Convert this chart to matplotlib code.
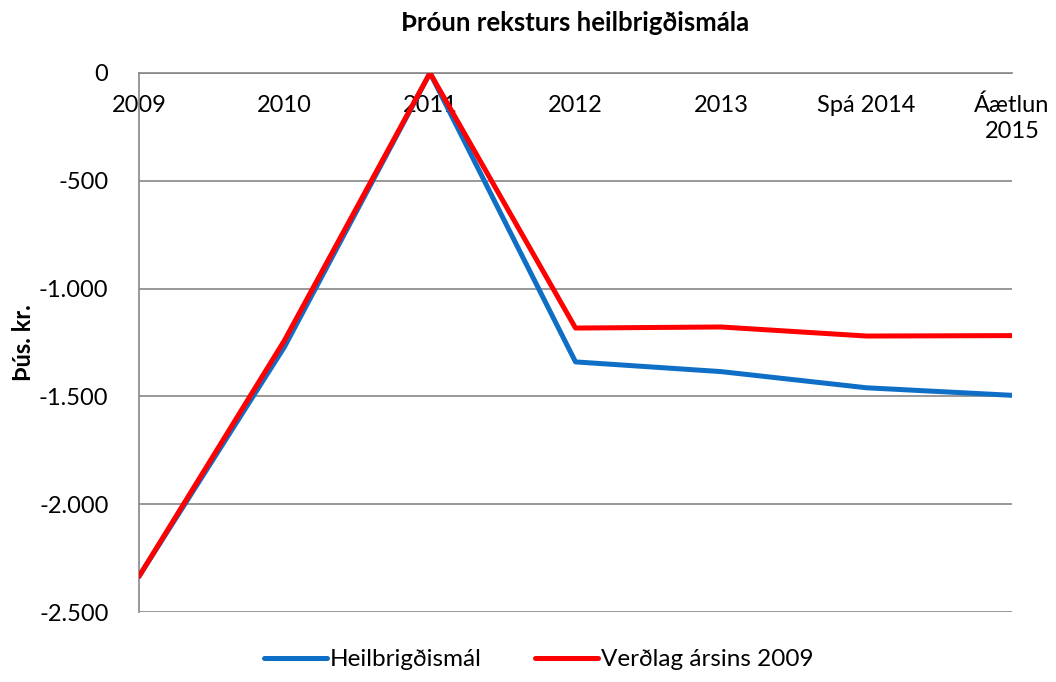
import matplotlib.pyplot as plt
from matplotlib.ticker import FuncFormatter

plt.rcParams['font.family'] = ['Lato', 'DejaVu Sans']

years = ['2009', '2010', '2011', '2012', '2013', 'Spá 2014', 'Áætlun\n2015']
heilbrigdismal = [-2335, -1270, 0, -1340, -1385, -1460, -1495]
verdlag_2009 = [-2335, -1240, 0, -1183, -1178, -1220, -1218]

blue = '#0F6FC6'
red = '#FF0000'

fig = plt.figure(figsize=(10.56, 6.82), dpi=100)
ax = fig.add_axes([0.1316, 0.1026, 0.8268, 0.7904])

x = list(range(len(years)))
ax.plot(x, heilbrigdismal, color=blue, lw=3.6, solid_capstyle='round',
        solid_joinstyle='round', label='Heilbrigðismál', zorder=3)
ax.plot(x, verdlag_2009, color=red, lw=3.6, solid_capstyle='round',
        solid_joinstyle='round', label='Verðlag ársins 2009', zorder=4)

ax.set_xlim(0, len(years) - 1)
ax.set_ylim(-2500, 0)
ax.set_yticks(range(-2500, 1, 500))
ax.yaxis.set_major_formatter(FuncFormatter(
    lambda v, p: '{:,.0f}'.format(v).replace(',', '.')))
ax.grid(axis='y', color='#868686', lw=1.2)
ax.set_axisbelow(True)

ax.set_xticks(x)
ax.set_xticklabels([])
for i, lab in enumerate(years):
    ax.text(i, -100, lab, ha='center', va='top', fontsize=17,
            linespacing=1.3, zorder=2)

for s in ['right', 'bottom']:
    ax.spines[s].set_visible(False)
ax.spines['left'].set_color('#868686')
ax.spines['top'].set_color('#868686')
ax.spines['left'].set_linewidth(1.2)
ax.spines['top'].set_linewidth(1.2)
ax.tick_params(axis='both', length=0, labelsize=17)
ax.tick_params(axis='y', pad=22)

ax.set_ylabel('Þús. kr.', fontsize=17, fontweight='bold', labelpad=3)
ax.set_title('Þróun reksturs heilbrigðismála', fontsize=18.5, fontweight='bold', pad=30)

fig.legend(loc='lower center', ncol=2, frameon=False, fontsize=17.5,
           handlelength=2.6, columnspacing=2.2, handletextpad=0.1,
           bbox_to_anchor=(0.51, -0.015))

fig.savefig('out.png', dpi=100)
